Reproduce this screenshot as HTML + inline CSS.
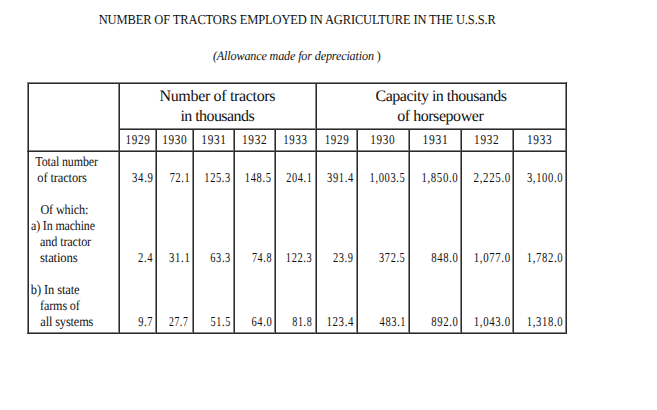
<!DOCTYPE html>
<html><head><meta charset="utf-8"><style>
*{margin:0;padding:0}
html,body{width:657px;height:410px;background:#fff;overflow:hidden;position:relative}
body{font-family:"Liberation Serif",serif;color:#111;text-rendering:geometricPrecision;}
.ln{position:absolute}
.hg,.hd{height:1px}
.vg,.vd{width:1px}
.hg,.vg{background:#858585}
.hd,.vd{background:#2b2b2b}
.t{position:absolute;height:0;white-space:nowrap;line-height:0}
.t span{display:inline-block;height:0;vertical-align:baseline;line-height:0}
.r{text-align:right}
.c{text-align:center}
</style></head>
<body>
<div class="ln hg" style="left:27px;top:82px;width:540px"></div>
<div class="ln hg" style="left:119px;top:128px;width:448px"></div>
<div class="ln hg" style="left:27px;top:150px;width:540px"></div>
<div class="ln hg" style="left:27px;top:332px;width:540px"></div>
<div class="ln vg" style="left:27px;top:82px;height:252px"></div>
<div class="ln vg" style="left:118px;top:82px;height:252px"></div>
<div class="ln vg" style="left:155px;top:130px;height:204px"></div>
<div class="ln vg" style="left:192px;top:130px;height:204px"></div>
<div class="ln vg" style="left:233px;top:130px;height:204px"></div>
<div class="ln vg" style="left:274px;top:130px;height:204px"></div>
<div class="ln vg" style="left:315px;top:82px;height:252px"></div>
<div class="ln vg" style="left:356px;top:130px;height:204px"></div>
<div class="ln vg" style="left:408px;top:130px;height:204px"></div>
<div class="ln vg" style="left:460px;top:130px;height:204px"></div>
<div class="ln vg" style="left:512px;top:130px;height:204px"></div>
<div class="ln vg" style="left:565px;top:82px;height:252px"></div>
<div class="ln hd" style="left:28px;top:83px;width:539px"></div>
<div class="ln hd" style="left:119px;top:129px;width:448px"></div>
<div class="ln hd" style="left:27px;top:151px;width:540px"></div>
<div class="ln hd" style="left:27px;top:333px;width:540px"></div>
<div class="ln vd" style="left:28px;top:83px;height:251px"></div>
<div class="ln vd" style="left:119px;top:83px;height:251px"></div>
<div class="ln vd" style="left:156px;top:130px;height:204px"></div>
<div class="ln vd" style="left:193px;top:130px;height:204px"></div>
<div class="ln vd" style="left:234px;top:130px;height:204px"></div>
<div class="ln vd" style="left:275px;top:130px;height:204px"></div>
<div class="ln vd" style="left:316px;top:83px;height:251px"></div>
<div class="ln vd" style="left:357px;top:130px;height:204px"></div>
<div class="ln vd" style="left:409px;top:130px;height:204px"></div>
<div class="ln vd" style="left:461px;top:130px;height:204px"></div>
<div class="ln vd" style="left:513px;top:130px;height:204px"></div>
<div class="ln vd" style="left:566px;top:82px;height:252px"></div>
<div class="t" id="title" style="top:20.41px;font-size:13.6px;left:98px;"><span style="letter-spacing:-0.150px;transform:matrix(0.9195,0,0,1,0.71,0);transform-origin:0 0;">NUMBER OF TRACTORS EMPLOYED IN AGRICULTURE IN THE U.S.S.R</span></div>
<div class="t" id="sub" style="top:55.61px;font-size:13px;left:212px;"><span style="letter-spacing:-0.150px;transform:matrix(0.9315,0,0,1,0.94,0);transform-origin:0 0;"><i>(Allowance made for depreciation</i> )</span></div>
<div class="t" id="h1" style="top:96.60px;font-size:16.0px;left:159px;"><span style="letter-spacing:-0.330px;transform:matrix(1.0000,0,0,1,0.47,0);transform-origin:0 0;">Number of tractors</span></div>
<div class="t" id="h2" style="top:116.60px;font-size:16.0px;left:180px;"><span style="letter-spacing:-0.570px;transform:matrix(1.0000,0,0,1,0.46,0);transform-origin:0 0;">in thousands</span></div>
<div class="t" id="h3" style="top:96.60px;font-size:16.0px;left:375px;"><span style="letter-spacing:-0.500px;transform:matrix(1.0000,0,0,1,0.54,0);transform-origin:0 0;">Capacity in thousands</span></div>
<div class="t" id="h4" style="top:116.60px;font-size:16.0px;left:397px;"><span style="letter-spacing:-0.451px;transform:matrix(1.0000,0,0,1,0.17,0);transform-origin:0 0;">of horsepower</span></div>
<div class="t c" id="y0" style="top:140.41px;font-size:13.6px;left:37px;width:200px;"><span style="letter-spacing:0.800px;transform:matrix(0.8234,0,0,1,0.73,0);transform-origin:50% 0;">1929</span></div>
<div class="t c" id="y1" style="top:140.41px;font-size:13.6px;left:74px;width:200px;"><span style="letter-spacing:0.800px;transform:matrix(0.8279,0,0,1,0.61,0);transform-origin:50% 0;">1930</span></div>
<div class="t c" id="y2" style="top:140.41px;font-size:13.6px;left:113px;width:200px;"><span style="letter-spacing:0.800px;transform:matrix(0.8321,0,0,1,0.79,0);transform-origin:50% 0;">1931</span></div>
<div class="t c" id="y3" style="top:140.41px;font-size:13.6px;left:154px;width:200px;"><span style="letter-spacing:0.800px;transform:matrix(0.8360,0,0,1,0.50,0);transform-origin:50% 0;">1932</span></div>
<div class="t c" id="y4" style="top:140.41px;font-size:13.6px;left:195px;width:200px;"><span style="letter-spacing:0.800px;transform:matrix(0.7986,0,0,1,0.23,0);transform-origin:50% 0;">1933</span></div>
<div class="t c" id="y5" style="top:140.41px;font-size:13.6px;left:236px;width:200px;"><span style="letter-spacing:0.800px;transform:matrix(0.8073,0,0,1,0.80,0);transform-origin:50% 0;">1929</span></div>
<div class="t c" id="y6" style="top:140.41px;font-size:13.6px;left:282px;width:200px;"><span style="letter-spacing:0.800px;transform:matrix(0.8238,0,0,1,0.65,0);transform-origin:50% 0;">1930</span></div>
<div class="t c" id="y7" style="top:140.41px;font-size:13.6px;left:335px;width:200px;"><span style="letter-spacing:0.800px;transform:matrix(0.8527,0,0,1,0.27,0);transform-origin:50% 0;">1931</span></div>
<div class="t c" id="y8" style="top:140.41px;font-size:13.6px;left:386px;width:200px;"><span style="letter-spacing:0.800px;transform:matrix(0.8297,0,0,1,0.53,0);transform-origin:50% 0;">1932</span></div>
<div class="t c" id="y9" style="top:140.41px;font-size:13.6px;left:439px;width:200px;"><span style="letter-spacing:0.800px;transform:matrix(0.8334,0,0,1,0.51,0);transform-origin:50% 0;">1933</span></div>
<div class="t" id="l0" style="top:162.41px;font-size:13.6px;left:35px;"><span style="letter-spacing:-0.150px;transform:matrix(0.8822,0,0,1,0.29,0);transform-origin:0 0;">Total number</span></div>
<div class="t" id="l1" style="top:178.41px;font-size:13.6px;left:37px;"><span style="letter-spacing:-0.150px;transform:matrix(0.9178,0,0,1,0.34,0);transform-origin:0 0;">of tractors</span></div>
<div class="t" id="l2" style="top:210.41px;font-size:13.6px;left:40px;"><span style="letter-spacing:-0.150px;transform:matrix(0.8963,0,0,1,0.41,0);transform-origin:0 0;">Of which:</span></div>
<div class="t" id="l3" style="top:226.41px;font-size:13.6px;left:31px;"><span style="letter-spacing:-0.150px;transform:matrix(0.8767,0,0,1,0.02,0);transform-origin:0 0;">a) In machine</span></div>
<div class="t" id="l4" style="top:242.41px;font-size:13.6px;left:40px;"><span style="letter-spacing:-0.150px;transform:matrix(0.8971,0,0,1,0.03,0);transform-origin:0 0;">and tractor</span></div>
<div class="t" id="l5" style="top:258.41px;font-size:13.6px;left:40px;"><span style="letter-spacing:-0.150px;transform:matrix(0.9288,0,0,1,0.01,0);transform-origin:0 0;">stations</span></div>
<div class="t" id="l6" style="top:290.41px;font-size:13.6px;left:30px;"><span style="letter-spacing:-0.150px;transform:matrix(0.9229,0,0,1,0.87,0);transform-origin:0 0;">b) In state</span></div>
<div class="t" id="l7" style="top:306.41px;font-size:13.6px;left:40px;"><span style="letter-spacing:-0.150px;transform:matrix(0.8917,0,0,1,0.04,0);transform-origin:0 0;">farms of</span></div>
<div class="t" id="l8" style="top:322.41px;font-size:13.6px;left:40px;"><span style="letter-spacing:-0.150px;transform:matrix(0.9064,0,0,1,0.34,0);transform-origin:0 0;">all systems</span></div>
<div class="t r" id="d0_0" style="top:178.41px;font-size:13.6px;right:503px;"><span style="letter-spacing:0.800px;transform:matrix(0.7963,0,0,1,-0.44,0);transform-origin:100% 0;">34.9</span></div>
<div class="t r" id="d0_1" style="top:178.41px;font-size:13.6px;right:466px;"><span style="letter-spacing:0.800px;transform:matrix(0.7577,0,0,1,-0.86,0);transform-origin:100% 0;">72.1</span></div>
<div class="t r" id="d0_2" style="top:178.41px;font-size:13.6px;right:425px;"><span style="letter-spacing:0.800px;transform:matrix(0.7699,0,0,1,-0.68,0);transform-origin:100% 0;">125.3</span></div>
<div class="t r" id="d0_3" style="top:178.41px;font-size:13.6px;right:385px;"><span style="letter-spacing:0.800px;transform:matrix(0.7733,0,0,1,-0.08,0);transform-origin:100% 0;">148.5</span></div>
<div class="t r" id="d0_4" style="top:178.41px;font-size:13.6px;right:344px;"><span style="letter-spacing:0.800px;transform:matrix(0.7571,0,0,1,-0.16,0);transform-origin:100% 0;">204.1</span></div>
<div class="t r" id="d0_5" style="top:178.41px;font-size:13.6px;right:302px;"><span style="letter-spacing:0.800px;transform:matrix(0.7759,0,0,1,-0.72,0);transform-origin:100% 0;">391.4</span></div>
<div class="t r" id="d0_6" style="top:178.41px;font-size:13.6px;right:251px;"><span style="letter-spacing:0.800px;transform:matrix(0.7754,0,0,1,-0.89,0);transform-origin:100% 0;">1,003.5</span></div>
<div class="t r" id="d0_7" style="top:178.41px;font-size:13.6px;right:199px;"><span style="letter-spacing:0.800px;transform:matrix(0.7957,0,0,1,-0.07,0);transform-origin:100% 0;">1,850.0</span></div>
<div class="t r" id="d0_8" style="top:178.41px;font-size:13.6px;right:146px;"><span style="letter-spacing:0.800px;transform:matrix(0.8061,0,0,1,-0.39,0);transform-origin:100% 0;">2,225.0</span></div>
<div class="t r" id="d0_9" style="top:178.41px;font-size:13.6px;right:94px;"><span style="letter-spacing:0.800px;transform:matrix(0.7825,0,0,1,-0.17,0);transform-origin:100% 0;">3,100.0</span></div>
<div class="t r" id="d1_0" style="top:258.41px;font-size:13.6px;right:504px;"><span style="letter-spacing:0.800px;transform:matrix(0.7789,0,0,1,-0.30,0);transform-origin:100% 0;">2.4</span></div>
<div class="t r" id="d1_1" style="top:258.41px;font-size:13.6px;right:466px;"><span style="letter-spacing:0.800px;transform:matrix(0.7915,0,0,1,-0.60,0);transform-origin:100% 0;">31.1</span></div>
<div class="t r" id="d1_2" style="top:258.41px;font-size:13.6px;right:426px;"><span style="letter-spacing:0.800px;transform:matrix(0.7654,0,0,1,-0.07,0);transform-origin:100% 0;">63.3</span></div>
<div class="t r" id="d1_3" style="top:258.41px;font-size:13.6px;right:384px;"><span style="letter-spacing:0.800px;transform:matrix(0.7510,0,0,1,-0.83,0);transform-origin:100% 0;">74.8</span></div>
<div class="t r" id="d1_4" style="top:258.41px;font-size:13.6px;right:344px;"><span style="letter-spacing:0.800px;transform:matrix(0.7654,0,0,1,-0.25,0);transform-origin:100% 0;">122.3</span></div>
<div class="t r" id="d1_5" style="top:258.41px;font-size:13.6px;right:303px;"><span style="letter-spacing:0.800px;transform:matrix(0.7665,0,0,1,-0.40,0);transform-origin:100% 0;">23.9</span></div>
<div class="t r" id="d1_6" style="top:258.41px;font-size:13.6px;right:251px;"><span style="letter-spacing:0.800px;transform:matrix(0.7586,0,0,1,-0.24,0);transform-origin:100% 0;">372.5</span></div>
<div class="t r" id="d1_7" style="top:258.41px;font-size:13.6px;right:198px;"><span style="letter-spacing:0.800px;transform:matrix(0.7865,0,0,1,-0.18,0);transform-origin:100% 0;">848.0</span></div>
<div class="t r" id="d1_8" style="top:258.41px;font-size:13.6px;right:146px;"><span style="letter-spacing:0.800px;transform:matrix(0.7974,0,0,1,-0.67,0);transform-origin:100% 0;">1,077.0</span></div>
<div class="t r" id="d1_9" style="top:258.41px;font-size:13.6px;right:94px;"><span style="letter-spacing:0.800px;transform:matrix(0.7866,0,0,1,-0.14,0);transform-origin:100% 0;">1,782.0</span></div>
<div class="t r" id="d2_0" style="top:322.41px;font-size:13.6px;right:504px;"><span style="letter-spacing:0.800px;transform:matrix(0.7659,0,0,1,-0.36,0);transform-origin:100% 0;">9.7</span></div>
<div class="t r" id="d2_1" style="top:322.41px;font-size:13.6px;right:468px;"><span style="letter-spacing:0.800px;transform:matrix(0.7207,0,0,1,-0.62,0);transform-origin:100% 0;">27.7</span></div>
<div class="t r" id="d2_2" style="top:322.41px;font-size:13.6px;right:426px;"><span style="letter-spacing:0.800px;transform:matrix(0.7497,0,0,1,-0.14,0);transform-origin:100% 0;">51.5</span></div>
<div class="t r" id="d2_3" style="top:322.41px;font-size:13.6px;right:384px;"><span style="letter-spacing:0.800px;transform:matrix(0.7750,0,0,1,-0.60,0);transform-origin:100% 0;">64.0</span></div>
<div class="t r" id="d2_4" style="top:322.41px;font-size:13.6px;right:344px;"><span style="letter-spacing:0.800px;transform:matrix(0.7432,0,0,1,-0.63,0);transform-origin:100% 0;">81.8</span></div>
<div class="t r" id="d2_5" style="top:322.41px;font-size:13.6px;right:302px;"><span style="letter-spacing:0.800px;transform:matrix(0.8027,0,0,1,-0.40,0);transform-origin:100% 0;">123.4</span></div>
<div class="t r" id="d2_6" style="top:322.41px;font-size:13.6px;right:250px;"><span style="letter-spacing:0.800px;transform:matrix(0.7714,0,0,1,-0.36,0);transform-origin:100% 0;">483.1</span></div>
<div class="t r" id="d2_7" style="top:322.41px;font-size:13.6px;right:198px;"><span style="letter-spacing:0.800px;transform:matrix(0.7865,0,0,1,-0.18,0);transform-origin:100% 0;">892.0</span></div>
<div class="t r" id="d2_8" style="top:322.41px;font-size:13.6px;right:146px;"><span style="letter-spacing:0.800px;transform:matrix(0.7974,0,0,1,-0.67,0);transform-origin:100% 0;">1,043.0</span></div>
<div class="t r" id="d2_9" style="top:322.41px;font-size:13.6px;right:94px;"><span style="letter-spacing:0.800px;transform:matrix(0.7866,0,0,1,-0.14,0);transform-origin:100% 0;">1,318.0</span></div>
</body></html>
